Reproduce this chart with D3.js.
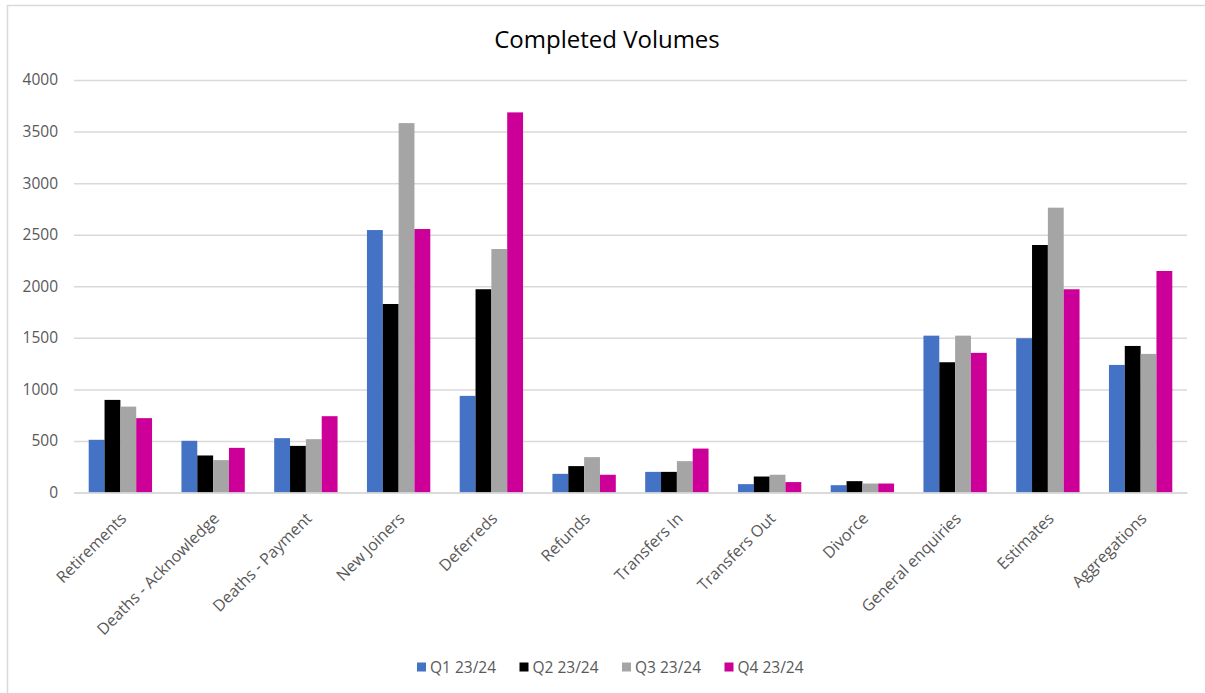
<!DOCTYPE html>
<html>
<head>
<meta charset="utf-8">
<script src="https://cdn.jsdelivr.net/npm/d3@7"></script>
<style>
  body { margin: 0; background: #fff; }
  text { font-family: "Open Sans", sans-serif; }
</style>
</head>
<body>
<script>
// Data
const categories = ["Retirements", "Deaths - Acknowledge", "Deaths - Payment", "New Joiners", "Deferreds",
  "Refunds", "Transfers In", "Transfers Out", "Divorce", "General enquiries", "Estimates", "Aggregations"];
const seriesNames = ["Q1 23/24", "Q2 23/24", "Q3 23/24", "Q4 23/24"];
const q1 = [511, 501, 527, 2545, 937, 181, 200, 81, 71, 1521, 1496, 1237];
const q2 = [898, 359, 452, 1828, 1971, 256, 200, 155, 110, 1263, 2400, 1421];
const q3 = [833, 314, 517, 3582, 2361, 343, 304, 172, 87, 1521, 2762, 1344];
const q4 = [721, 433, 740, 2555, 3686, 172, 426, 101, 87, 1354, 1971, 2148];
const yTicks = [0, 500, 1000, 1500, 2000, 2500, 3000, 3500, 4000];
const colors = ["#4472C4", "#000000", "#A5A5A5", "#CC0099"];

const W = 1205, H = 693;
const plot = { left: 74, right: 1187, top: 80, bottom: 492.5 };

const svg = d3.select("body").append("svg")
  .attr("width", W).attr("height", H);

// chart border
svg.append("rect")
  .attr("x", 7.5).attr("y", 5.5)
  .attr("width", W + 10).attr("height", H + 10)
  .attr("fill", "#fff").attr("stroke", "#d9d9d9").attr("stroke-width", 1.5);

// title
svg.append("text")
  .attr("x", 607).attr("y", 48)
  .attr("text-anchor", "middle")
  .attr("font-size", 24)
  .attr("fill", "#000")
  .text("Completed Volumes");

// scales
const x0 = d3.scaleBand().domain(categories)
  .range([plot.left, plot.right])
  .paddingInner(0.317).paddingOuter(0.1585);
const x1 = d3.scaleBand().domain(seriesNames).range([0, x0.bandwidth()]);
const y = d3.scaleLinear().domain([0, 4000]).range([plot.bottom, plot.top]);

// gridlines + y labels
const yAxis = d3.axisLeft(y).tickValues(yTicks).tickFormat(d3.format("d"))
  .tickSize(-(plot.right - plot.left)).tickPadding(16);
const gy = svg.append("g").attr("transform", `translate(${plot.left},0)`).call(yAxis);
gy.select(".domain").remove();
gy.selectAll(".tick line").attr("stroke", "#d9d9d9").attr("stroke-width", 1.5);
gy.selectAll(".tick text").attr("fill", "#595959").attr("font-size", 15.5)
  .attr("font-family", "Open Sans, sans-serif");

// bars
const rows = categories.map((c, i) => ({ cat: c, vals: [q1[i], q2[i], q3[i], q4[i]] }));
const groups = svg.append("g").selectAll("g").data(rows).join("g")
  .attr("transform", d => `translate(${x0(d.cat)},0)`);
groups.selectAll("rect")
  .data(d => d.vals.map((v, k) => ({ key: seriesNames[k], v, k })))
  .join("rect")
  .attr("x", d => x1(d.key))
  .attr("width", x1.bandwidth())
  .attr("y", d => y(d.v))
  .attr("height", d => y(0) - y(d.v))
  .attr("fill", d => colors[d.k]);

// x axis
const xAxis = d3.axisBottom(x0).tickSize(0).tickPadding(0);
const gx = svg.append("g").attr("transform", `translate(0,${plot.bottom})`).call(xAxis);
gx.select(".domain").attr("stroke", "#d9d9d9").attr("stroke-width", 1.5);
gx.selectAll(".tick text")
  .attr("fill", "#595959").attr("font-size", 16)
  .attr("font-family", "Open Sans, sans-serif")
  .attr("text-anchor", "end")
  .attr("dy", 0)
  .attr("transform", "translate(7,27) rotate(-45)");

// legend
const legend = svg.append("g").attr("transform", "translate(417,667)");
const li = legend.selectAll("g").data(seriesNames).join("g")
  .attr("transform", (d, i) => `translate(${i * 102.5},0)`);
li.append("rect").attr("x", 0).attr("y", -4.5).attr("width", 9).attr("height", 9)
  .attr("fill", (d, i) => colors[i]);
li.append("text").attr("x", 13).attr("y", 5.5)
  .attr("font-size", 15.5).attr("fill", "#595959").text(d => d);
</script>
</body>
</html>
